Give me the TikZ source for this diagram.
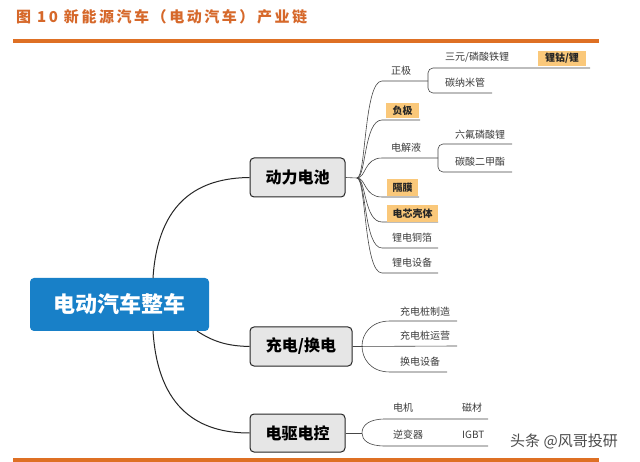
\documentclass[tikz,border=0pt]{standalone}
\usepackage{fontspec}
\newfontfamily\cjk{Noto Sans CJK SC}
\newfontfamily\titlefont[LetterSpace=17]{Noto Sans CJK SC}
\definecolor{rootblue}{RGB}{24,128,200}
\definecolor{titleorange}{RGB}{214,104,42}
\definecolor{barorange}{RGB}{222,112,36}
\definecolor{hl}{RGB}{250,200,122}
\definecolor{boxgray}{RGB}{230,230,230}
\definecolor{linegray}{RGB}{70,70,70}
\definecolor{leaftext}{RGB}{60,60,60}
\begin{document}
\begin{tikzpicture}[x=1pt,y=-1pt,
  rootbox/.style={draw=none,fill=rootblue,rounded corners=4pt,minimum width=179pt,minimum height=53pt,
    text=white,font=\cjk\bfseries\fontsize{22}{24}\selectfont,inner sep=0pt},
  lvlbox/.style={draw=black!85,line width=1pt,fill=boxgray,rounded corners=4pt,minimum height=39pt,
    font=\cjk\bfseries\fontsize{16}{18}\selectfont,inner sep=0pt},
  leaf/.style={font=\cjk\fontsize{10}{12}\selectfont,text=leaftext,inner sep=0pt},
  hlbox/.style={fill=hl,font=\cjk\bfseries\fontsize{10}{12}\selectfont,text=black!85,inner sep=0pt},
  conn/.style={draw=black!85,line width=1pt},
  thin/.style={draw=linegray,line width=0.6pt},
]
\useasboundingbox (0,0) rectangle (640,462);
\fill[white] (0,0) rectangle (640,462);

% title and bars
\node[anchor=west,inner sep=0pt,text=titleorange,font=\titlefont\bfseries\fontsize{15}{17}\selectfont] (title) at (16,17) {图 10 新能源汽车（电动汽车）产业链};
\fill[barorange] (13,39.5) rectangle (599,43.5);
\fill[barorange] (13,458) rectangle (599,462);

% main nodes
\node[rootbox] (root) at (119.5,304.5) {电动汽车整车};
\node[lvlbox,minimum width=95pt] (b1) at (297.5,177.5) {动力电池};
\node[lvlbox,minimum width=102pt] (b2) at (301,346.5) {充电/换电};
\node[lvlbox,minimum width=95pt,minimum height=38pt] (b3) at (297.5,433) {电驱电控};

% root connectors
\coordinate (rt) at (153,278);
\coordinate (rb) at (153,331);
\coordinate (rm) at (197,331);
\draw[conn] (rt) .. controls (158,200) and (200,178) .. (b1.west);
\draw[conn] (rb) .. controls (158,410) and (200,433) .. (b3.west);
\draw[conn] (rm) .. controls (215,343) and (230,346) .. (b2.west);

% ---------- battery branch ----------
\coordinate (j1) at (357,178);
\draw[thin] (b1.east) -- (j1);
\foreach \y/\e/\n in {81/428/zj,120/420/fj,158/438/dj,197/419/gm,222/438/dx,248/438/tb,273/438/sb}{
  \coordinate (\n s) at (382,\y);
  \coordinate (\n e) at (\e,\y);
  \draw[thin] (j1) .. controls (366,178) and (364,\y) .. (\n s) -- (\n e);
}
\node[leaf,anchor=west] (zjt) at (391,71) {正极};
\node[hlbox,minimum width=33pt,minimum height=15pt] (fjt) at (402.5,110.5) {负极};
\node[leaf,anchor=west] (djt) at (391,148) {电解液};
\node[hlbox,minimum width=31pt,minimum height=17pt] (gmt) at (402.5,187.5) {隔膜};
\node[hlbox,minimum width=51pt,minimum height=17pt] (dxt) at (412.5,213.5) {电芯壳体};
\node[leaf,anchor=west] (tbt) at (392,238) {锂电铜箔};
\node[leaf,anchor=west] (sbt) at (392,263) {锂电设备};

% cathode sub-branch
\draw[thin,rounded corners=5pt] (590,68) -- (428,68) -- (428,93) -- (492,93);
\node[leaf,anchor=west] (syt) at (445,57) {三元/磷酸铁锂};
\node[hlbox,minimum width=48pt,minimum height=15pt] (lgt) at (562,58.5) {锂钴/锂};
\node[leaf,anchor=west] (tnt) at (445,83) {碳纳米管};

% electrolyte sub-branch
\draw[thin,rounded corners=5pt] (512,144) -- (438,144) -- (438,172) -- (512,172);
\node[leaf,anchor=west] (lft) at (455,135) {六氟磷酸锂};
\node[leaf,anchor=west] (tst) at (455,162) {碳酸二甲酯};

% ---------- charging branch ----------
\coordinate (j2) at (362,346);
\draw[thin] (b2.east) -- (457,346);
\draw[thin] (457,321) -- (390,321) .. controls (370,321) and (362,335) .. (j2)
  .. controls (362,358) and (370,372) .. (390,372) -- (447,372);
\node[leaf,anchor=west] (czz) at (400,312) {充电桩制造};
\node[leaf,anchor=west] (cyy) at (400,336) {充电桩运营};
\node[leaf,anchor=west] (hds) at (400,362) {换电设备};

% ---------- motor branch ----------
\coordinate (j3) at (362,433);
\draw[thin] (b3.east) -- (j3);
\draw[thin] (488,419) -- (385,419) .. controls (368,419) and (362,426) .. (j3)
  .. controls (362,440) and (368,446) .. (385,446) -- (488,446);
\node[leaf,anchor=west] (djn) at (393,408) {电机};
\node[leaf,anchor=west] (cct) at (462,408) {磁材};
\node[leaf,anchor=west] (nbq) at (393,435) {逆变器};
\node[leaf,anchor=west] (igb) at (462,435) {IGBT};

% watermark
\node[anchor=west,inner sep=0pt,text=black!70,font=\cjk\fontsize{15}{17}\selectfont] (wm) at (510,441) {头条 @风哥投研};
\end{tikzpicture}
\end{document}
